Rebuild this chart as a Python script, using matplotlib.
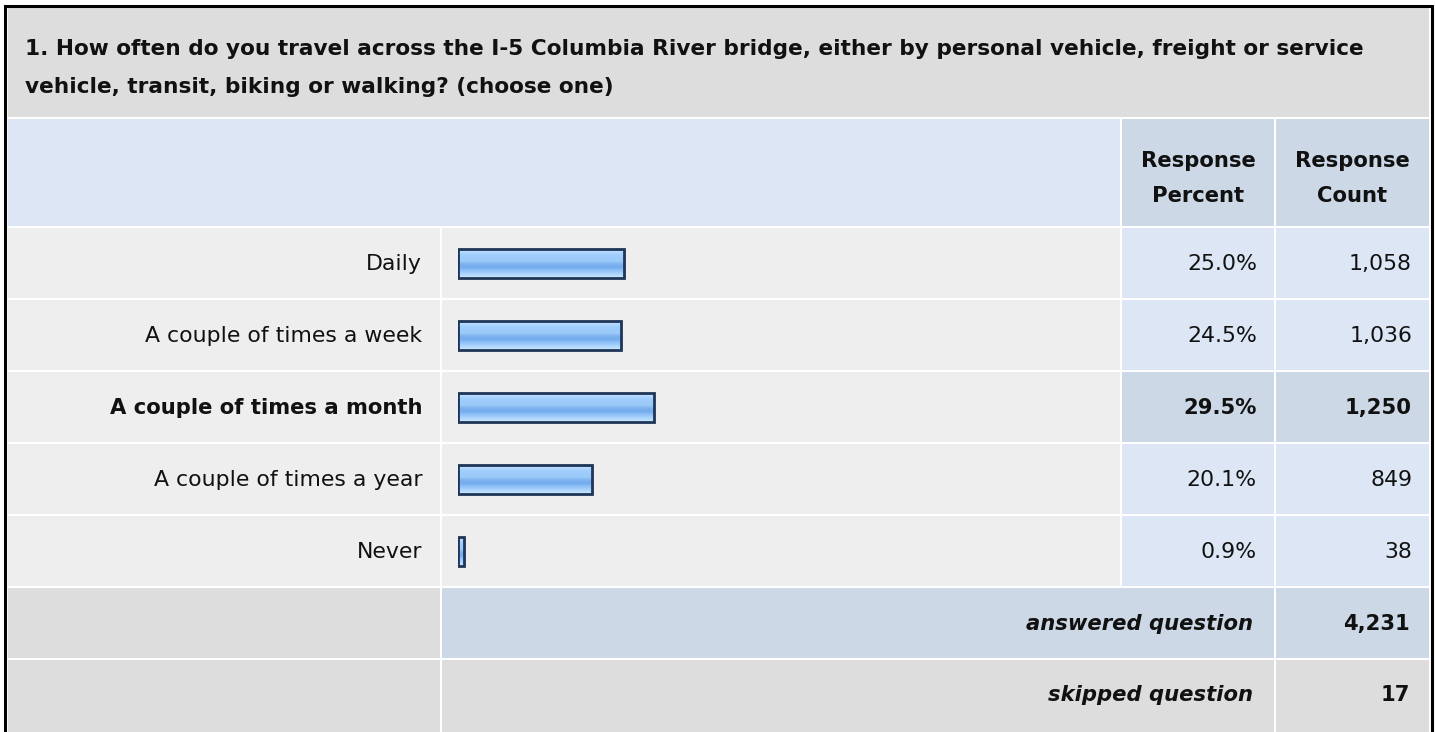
import matplotlib
matplotlib.use("Agg")
import matplotlib.pyplot as plt
from matplotlib.patches import Rectangle
from matplotlib.colors import LinearSegmentedColormap
import numpy as np

plt.rcParams['font.family'] = ['DejaVu Sans']

question_lines = ["1. How often do you travel across the I-5 Columbia River bridge, either by personal vehicle, freight or service",
                  "vehicle, transit, biking or walking? (choose one)"]
answers = ['Daily', 'A couple of times a week', 'A couple of times a month',
           'A couple of times a year', 'Never']
percents = [25.0, 24.5, 29.5, 20.1, 0.9]
counts = [1058, 1036, 1250, 849, 38]
answered = 4231
skipped = 17

W, H = 1435, 732
GREY = '#dddddd'
ROW = '#eeeeee'
LIGHT_BLUE = '#dce6f4'
MID_BLUE = '#ccd8e6'
INK = '#111111'
FS = 15.8      # regular text
FS_B = 15.2    # bold text
FS_T = 15.6    # question title
top_pick = int(np.argmax(percents))

fig = plt.figure(figsize=(W / 100, H / 100), dpi=100)
ax = fig.add_axes([0, 0, 1, 1])
ax.set_xlim(0, W)
ax.set_ylim(H, 0)
ax.axis('off')


def cell(x0, x1, y0, y1, color):
    ax.add_patch(Rectangle((x0, y0), x1 - x0, y1 - y0, facecolor=color, edgecolor='none'))


# column edges (pixels)
c_lab = (8, 440)
c_bar = (442, 1120)
c_pct = (1122, 1274)
c_cnt = (1276, 1429)

# title block
cell(8, 1429, 8, 117, GREY)
ax.text(25, 55, question_lines[0], fontsize=FS_T, fontweight='bold', ha='left', va='baseline', color=INK)
ax.text(25, 93, question_lines[1], fontsize=FS_T, fontweight='bold', ha='left', va='baseline', color=INK)

# header row
cell(8, 1120, 119, 226, LIGHT_BLUE)
cell(*c_pct, 119, 226, MID_BLUE)
cell(*c_cnt, 119, 226, MID_BLUE)
for cx, second in [(sum(c_pct) / 2, 'Percent'), (sum(c_cnt) / 2, 'Count')]:
    ax.text(cx, 167, 'Response', fontsize=FS_B, fontweight='bold', ha='center', va='baseline', color=INK)
    ax.text(cx, 202, second, fontsize=FS_B, fontweight='bold', ha='center', va='baseline', color=INK)

# answer rows
row_top = 228
pitch = 72
row_h = 70
for i, (lab, p, n) in enumerate(zip(answers, percents, counts)):
    y0 = row_top + i * pitch
    y1 = y0 + row_h
    base = y0 + 42
    hi = i == top_pick
    wt = 'bold' if hi else 'normal'
    fs = FS_B if hi else FS
    cell(*c_lab, y0, y1, ROW)
    cell(*c_bar, y0, y1, ROW)
    val_col = MID_BLUE if hi else LIGHT_BLUE
    cell(*c_pct, y0, y1, val_col)
    cell(*c_cnt, y0, y1, val_col)
    ax.text(422, base, lab, fontsize=fs, fontweight=wt, ha='right', va='baseline', color=INK)
    ax.text(1257, base, f'{p:.1f}%', fontsize=fs, fontweight=wt, ha='right', va='baseline', color=INK)
    ax.text(1412, base, f'{n:,}', fontsize=fs, fontweight=wt, ha='right', va='baseline', color=INK)

# answered / skipped rows
ya = row_top + len(answers) * pitch
cell(*c_lab, ya, ya + row_h, GREY)
cell(c_bar[0], c_pct[1], ya, ya + row_h, MID_BLUE)
cell(*c_cnt, ya, ya + row_h, MID_BLUE)
ax.text(1253, ya + 42, 'answered question', fontsize=FS_B, fontweight='bold', style='italic',
        ha='right', va='baseline', color=INK)
ax.text(1410, ya + 42, f'{answered:,}', fontsize=FS_B, fontweight='bold', ha='right', va='baseline', color=INK)

ys = ya + pitch
cell(*c_lab, ys, H, GREY)
cell(c_bar[0], c_pct[1], ys, H, GREY)
cell(*c_cnt, ys, H, GREY)
ax.text(1253, ys + 41, 'skipped question', fontsize=FS_B, fontweight='bold', style='italic',
        ha='right', va='baseline', color=INK)
ax.text(1410, ys + 41, f'{skipped:,}', fontsize=FS_B, fontweight='bold', ha='right', va='baseline', color=INK)

# outer frame (open at the bottom, the table runs on)
ax.plot([4.5, 4.5, 1431.5, 1431.5], [H + 5, 5.5, 5.5, H + 5], color='black', lw=2.2,
        solid_joinstyle='miter', clip_on=False)

# bar axes: 0-100 % across the bar column, one slot per answer row
bx0, bx1 = 458, 458 + 665
by0, by1 = row_top - 1, row_top - 1 + len(answers) * pitch
bax = fig.add_axes([bx0 / W, 1 - by1 / H, (bx1 - bx0) / W, (by1 - by0) / H])
bax.set_xlim(0, 100)
bax.set_ylim(len(answers) - 0.5, -0.5)
bax.axis('off')
bax.patch.set_alpha(0)

grad = LinearSegmentedColormap.from_list('bar', ['#d6ecff', '#b6dbff', '#a2cffc', '#9ccbfa', '#9ccbfa',
                                                 '#7fb3f0', '#74abed', '#8ec1f6', '#a9d3fc', '#c4e2ff'])
bars = bax.barh(range(len(answers)), percents, height=29 / pitch, left=0,
                facecolor='none', edgecolor='#1d3557', linewidth=2.0, zorder=3)
for b in bars:
    x, y, w, h = b.get_x(), b.get_y(), b.get_width(), b.get_height()
    im = bax.imshow(np.linspace(0, 1, 64).reshape(-1, 1), cmap=grad, aspect='auto',
                    extent=[x, x + w, y + h, y], zorder=2, interpolation='bilinear')
    im.set_clip_path(b)

fig.savefig('out.png', dpi=100)
